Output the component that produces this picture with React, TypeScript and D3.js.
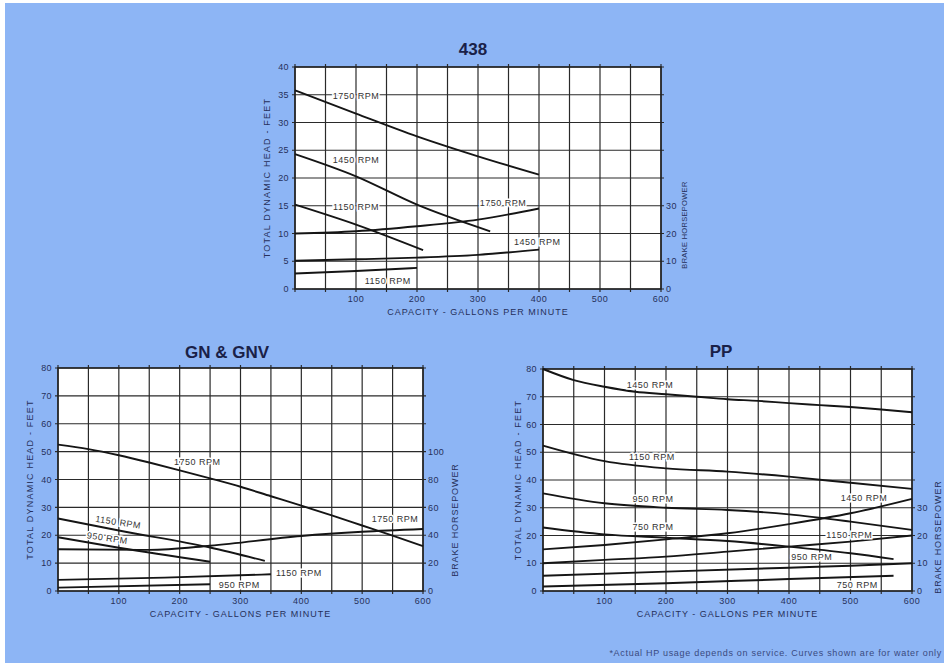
import React from "react";
import * as d3 from "d3";

// ---------- shared ----------
const capacityTicks = [100, 200, 300, 400, 500, 600];
const capacityGrid = [0, 50, 100, 150, 200, 250, 300, 350, 400, 450, 500, 550, 600];

// ---------- 438 ----------
const m438_head1750_x = [0, 100, 200, 300, 400];
const m438_head1750_y = [35.8, 31.6, 27.5, 23.9, 20.6];
const m438_head1450_x = [0, 100, 200, 320];
const m438_head1450_y = [24.3, 20.3, 15.2, 10.4];
const m438_head1150_x = [0, 100, 210];
const m438_head1150_y = [15.2, 11.6, 7.0];
const m438_hp1750_x = [0, 100, 200, 300, 400];
const m438_hp1750_y = [20, 20.8, 22.6, 25, 29];
const m438_hp1450_x = [0, 100, 200, 300, 400];
const m438_hp1450_y = [10.2, 10.7, 11.3, 12.3, 14.2];
const m438_hp1150_x = [0, 100, 200];
const m438_hp1150_y = [5.6, 6.5, 7.6];
const m438_headTicks = [0, 5, 10, 15, 20, 25, 30, 35, 40];
const m438_hpTicks = [0, 10, 20, 30];

// ---------- GN & GNV ----------
const gn_head1750_x = [0, 50, 100, 150, 200, 250, 300, 350, 400, 450, 500, 550, 600];
const gn_head1750_y = [52.5, 50.9, 48.7, 46.1, 43.3, 40.4, 37.4, 34, 30.6, 27.1, 23.5, 19.9, 16.1];
const gn_head1150_x = [0, 100, 250, 340];
const gn_head1150_y = [26, 21.7, 15.6, 10.8];
const gn_head950_x = [0, 100, 250];
const gn_head950_y = [19.3, 15.5, 10.5];
const gn_hp1750_x = [0, 150, 250, 400, 500, 600];
const gn_hp1750_y = [30, 29.5, 32.5, 39.5, 42.5, 44.5];
const gn_hp1150_x = [0, 175, 350];
const gn_hp1150_y = [8, 9.6, 12];
const gn_hp950_x = [0, 250];
const gn_hp950_y = [2.4, 4.8];
const gn_headTicks = [0, 10, 20, 30, 40, 50, 60, 70, 80];
const gn_hpTicks = [0, 20, 40, 60, 80, 100];

// ---------- PP ----------
const pp_head1450_x = [0, 50, 100, 150, 200, 250, 300, 350, 400, 450, 500, 550, 600];
const pp_head1450_y = [80, 76, 73.6, 71.8, 70.9, 70, 69.1, 68.5, 67.7, 67, 66.3, 65.4, 64.4];
const pp_head1150_x = [0, 100, 200, 300, 400, 500, 600];
const pp_head1150_y = [52.4, 46.8, 44.2, 43, 41.2, 39, 36.8];
const pp_head950_x = [0, 100, 200, 300, 400, 500, 600];
const pp_head950_y = [35.2, 31.6, 30, 29.2, 27.6, 25, 22];
const pp_head750_x = [0, 100, 200, 300, 400, 500, 570];
const pp_head750_y = [22.9, 20.4, 19.2, 18, 16, 13.6, 11.5];
const pp_hp1450_x = [0, 100, 200, 300, 400, 500, 600];
const pp_hp1450_y = [15, 16.6, 18.6, 20.8, 24.1, 28, 33.2];
const pp_hp1150_x = [0, 100, 200, 300, 400, 500, 600];
const pp_hp1150_y = [10, 11.2, 12.4, 14.2, 16, 17.8, 20];
const pp_hp950_x = [0, 200, 400, 500, 600];
const pp_hp950_y = [5.5, 7, 8.4, 9.1, 10];
const pp_hp750_x = [0, 200, 400, 570];
const pp_hp750_y = [1.6, 2.8, 4.3, 5.5];
const pp_headTicks = [0, 10, 20, 30, 40, 50, 60, 70, 80];
const pp_hpTicks = [0, 10, 20, 30];

type Series = { xs: number[]; ys: number[] };
type Label = { text: string; x: number; y: number; axis: "head" | "hp"; rot?: number };
type Cfg = {
  title: string;
  titleX: number;
  titleY: number;
  left: number;
  top: number;
  right: number;
  bottom: number;
  yMax: number;
  hpMax: number;
  headTicks: number[];
  hpTicks: number[];
  heads: Series[];
  hps: Series[];
  labels: Label[];
  hpLabelY: number;
  hpLabelX: number;
  hpLabelSize: number;
  headLabelX: number;
};

const FONT = "'Liberation Sans', Arial, Helvetica, sans-serif";
const TEXT = "#26305a";
const INK = "#151515";

const charts: Cfg[] = [
  {
    title: "438",
    titleX: 473,
    titleY: 55,
    left: 295,
    top: 67,
    right: 661,
    bottom: 289,
    yMax: 40,
    hpMax: 80,
    headTicks: m438_headTicks,
    hpTicks: m438_hpTicks,
    heads: [
      { xs: m438_head1750_x, ys: m438_head1750_y },
      { xs: m438_head1450_x, ys: m438_head1450_y },
      { xs: m438_head1150_x, ys: m438_head1150_y },
    ],
    hps: [
      { xs: m438_hp1750_x, ys: m438_hp1750_y },
      { xs: m438_hp1450_x, ys: m438_hp1450_y },
      { xs: m438_hp1150_x, ys: m438_hp1150_y },
    ],
    labels: [
      { text: "1750 RPM", x: 100, y: 34.8, axis: "head" },
      { text: "1450 RPM", x: 100, y: 23.2, axis: "head" },
      { text: "1150 RPM", x: 100, y: 14.8, axis: "head" },
      { text: "1750 RPM", x: 341, y: 31, axis: "hp" },
      { text: "1450 RPM", x: 397, y: 17, axis: "hp" },
      { text: "1150 RPM", x: 152, y: 2.9, axis: "hp" },
    ],
    hpLabelY: 225,
    hpLabelX: 684,
    hpLabelSize: 7.5,
    headLabelX: 267,
  },
  {
    title: "GN & GNV",
    titleX: 227,
    titleY: 358,
    left: 58,
    top: 368,
    right: 423,
    bottom: 591,
    yMax: 80,
    hpMax: 160,
    headTicks: gn_headTicks,
    hpTicks: gn_hpTicks,
    heads: [
      { xs: gn_head1750_x, ys: gn_head1750_y },
      { xs: gn_head1150_x, ys: gn_head1150_y },
      { xs: gn_head950_x, ys: gn_head950_y },
    ],
    hps: [
      { xs: gn_hp1750_x, ys: gn_hp1750_y },
      { xs: gn_hp1150_x, ys: gn_hp1150_y },
      { xs: gn_hp950_x, ys: gn_hp950_y },
    ],
    labels: [
      { text: "1750 RPM", x: 229, y: 46.2, axis: "head" },
      { text: "1150 RPM", x: 99, y: 24.7, axis: "head", rot: 9 },
      { text: "950 RPM", x: 81, y: 19, axis: "head", rot: 8 },
      { text: "1750 RPM", x: 554, y: 51.6, axis: "hp" },
      { text: "1150 RPM", x: 396, y: 12.9, axis: "hp" },
      { text: "950 RPM", x: 298, y: 4.3, axis: "hp" },
    ],
    hpLabelY: 520,
    hpLabelX: 455,
    hpLabelSize: 9,
    headLabelX: 30,
  },
  {
    title: "PP",
    titleX: 721,
    titleY: 357,
    left: 543,
    top: 369,
    right: 912,
    bottom: 591,
    yMax: 80,
    hpMax: 80,
    headTicks: pp_headTicks,
    hpTicks: pp_hpTicks,
    heads: [
      { xs: pp_head1450_x, ys: pp_head1450_y },
      { xs: pp_head1150_x, ys: pp_head1150_y },
      { xs: pp_head950_x, ys: pp_head950_y },
      { xs: pp_head750_x, ys: pp_head750_y },
    ],
    hps: [
      { xs: pp_hp1450_x, ys: pp_hp1450_y },
      { xs: pp_hp1150_x, ys: pp_hp1150_y },
      { xs: pp_hp950_x, ys: pp_hp950_y },
      { xs: pp_hp750_x, ys: pp_hp750_y },
    ],
    labels: [
      { text: "1450 RPM", x: 174, y: 74.2, axis: "head" },
      { text: "1150 RPM", x: 177, y: 48.3, axis: "head" },
      { text: "950 RPM", x: 179, y: 33.2, axis: "head" },
      { text: "750 RPM", x: 179, y: 23.1, axis: "head" },
      { text: "1450 RPM", x: 522, y: 33.5, axis: "hp" },
      { text: "1150 RPM", x: 498, y: 20.2, axis: "hp" },
      { text: "950 RPM", x: 437, y: 12.3, axis: "hp" },
      { text: "750 RPM", x: 511, y: 2.2, axis: "hp" },
    ],
    hpLabelY: 537,
    hpLabelX: 938,
    hpLabelSize: 9,
    headLabelX: 518,
  },
];

function PumpChart({ cfg }: { cfg: Cfg }) {
  const x = d3.scaleLinear().domain([0, 600]).range([cfg.left, cfg.right]);
  const y = d3.scaleLinear().domain([0, cfg.yMax]).range([cfg.bottom, cfg.top]);
  const hp = d3.scaleLinear().domain([0, cfg.hpMax]).range([cfg.bottom, cfg.top]);
  const path = (s: Series, scale: d3.ScaleLinear<number, number>) =>
    d3
      .line<[number, number]>()
      .x((d) => x(d[0]))
      .y((d) => scale(d[1]))
      .curve(d3.curveMonotoneX)(s.xs.map((v, i) => [v, s.ys[i]] as [number, number])) || "";
  const ext = 3;
  const hGrid = d3.range(0, cfg.yMax + 0.001, cfg.yMax / 8);
  const plotCY = (cfg.top + cfg.bottom) / 2;
  const plotCX = (cfg.left + cfg.right) / 2;
  return (
    <g fontFamily={FONT}>
      <text x={cfg.titleX} y={cfg.titleY} textAnchor="middle" fontSize={17} fontWeight="bold" fill="#1a2148">
        {cfg.title}
      </text>
      <rect x={cfg.left} y={cfg.top} width={cfg.right - cfg.left} height={cfg.bottom - cfg.top} fill="#ffffff" />
      {capacityGrid.map((v) => (
        <line key={"v" + v} x1={x(v)} x2={x(v)} y1={cfg.top - ext} y2={cfg.bottom + ext} stroke="#2a2a2a" strokeWidth={1.2} />
      ))}
      {hGrid.map((v) => (
        <line key={"h" + v} x1={cfg.left - ext} x2={cfg.right + ext} y1={y(v)} y2={y(v)} stroke="#2a2a2a" strokeWidth={1.2} />
      ))}
      <rect x={cfg.left} y={cfg.top} width={cfg.right - cfg.left} height={cfg.bottom - cfg.top} fill="none" stroke="#222" strokeWidth={1.5} />
      {cfg.heads.map((s, i) => (
        <path key={"hd" + i} d={path(s, y)} fill="none" stroke={INK} strokeWidth={1.9} />
      ))}
      {cfg.hps.map((s, i) => (
        <path key={"hp" + i} d={path(s, hp)} fill="none" stroke={INK} strokeWidth={1.9} />
      ))}
      {cfg.labels.map((l, i) => {
        const lx = x(l.x);
        const ly = l.axis === "head" ? y(l.y) : hp(l.y);
        return (
          <text
            key={"l" + i}
            x={lx}
            y={ly}
            dy="0.35em"
            textAnchor="middle"
            fontSize={9}
            letterSpacing={0.5}
            fill="#333"
            stroke="#fff"
            strokeWidth={3}
            paintOrder="stroke"
            transform={l.rot ? `rotate(${l.rot},${lx},${ly})` : undefined}
          >
            {l.text}
          </text>
        );
      })}
      {cfg.headTicks.map((v) => (
        <text key={"lt" + v} x={cfg.left - 6} y={y(v)} dy="0.35em" textAnchor="end" fontSize={9} letterSpacing={0.4} fill={TEXT}>
          {v}
        </text>
      ))}
      {cfg.hpTicks.map((v) => (
        <text key={"rt" + v} x={cfg.right + 5} y={hp(v)} dy="0.35em" textAnchor="start" fontSize={9} letterSpacing={0.4} fill={TEXT}>
          {v}
        </text>
      ))}
      {capacityTicks.map((v) => (
        <text key={"bt" + v} x={x(v)} y={cfg.bottom + 13} textAnchor="middle" fontSize={9} letterSpacing={0.5} fill={TEXT}>
          {v}
        </text>
      ))}
      <text x={plotCX} y={cfg.bottom + 26} textAnchor="middle" fontSize={9} letterSpacing={1} fill={TEXT}>
        CAPACITY - GALLONS PER MINUTE
      </text>
      <text
        x={cfg.headLabelX}
        y={plotCY}
        textAnchor="middle"
        fontSize={9}
        letterSpacing={1.2}
        fill={TEXT}
        transform={`rotate(-90,${cfg.headLabelX},${plotCY})`}
        dy="0.35em"
      >
        TOTAL DYNAMIC HEAD - FEET
      </text>
      <text
        x={cfg.hpLabelX}
        y={cfg.hpLabelY}
        textAnchor="middle"
        fontSize={cfg.hpLabelSize}
        letterSpacing={cfg.hpLabelSize > 8 ? 0.9 : 0.3}
        fill={TEXT}
        transform={`rotate(-90,${cfg.hpLabelX},${cfg.hpLabelY})`}
        dy="0.35em"
      >
        BRAKE HORSEPOWER
      </text>
    </g>
  );
}

export default function App() {
  return (
    <svg
      width={944}
      height={663}
      style={{ position: "absolute", left: 0, top: 0, display: "block" }}
    >
      <rect x={0} y={0} width={944} height={663} fill="#ffffff" />
      <rect x={5} y={3} width={939} height={660} fill="#8db5f5" />
      {charts.map((c) => (
        <PumpChart key={c.title} cfg={c} />
      ))}
      <text x={942} y={656} textAnchor="end" fontSize={9} letterSpacing={0.7} fill="#3a4a80" fontFamily={FONT}>
        *Actual HP usage depends on service. Curves shown are for water only
      </text>
    </svg>
  );
}
